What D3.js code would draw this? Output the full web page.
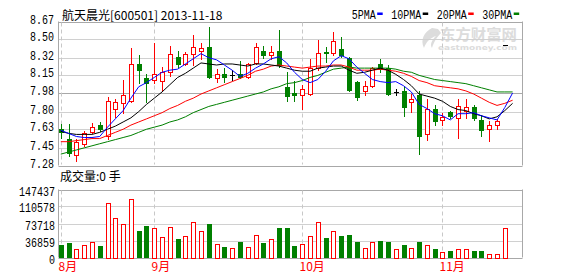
<!DOCTYPE html>
<html>
<head>
<meta charset="utf-8">
<script src="https://cdn.jsdelivr.net/npm/d3@7/dist/d3.min.js"></script>
<style>
  body { margin: 0; background: #fff; }
  svg { display: block; }
</style>
</head>
<body>
<script>
// ---- data ----
const title = "航天晨光[600501] 2013-11-18";
const volumeCaption = "成交量:0 手";

// daily candles (index 0 = first day shown)
const open  = [7.63,7.54,7.38,7.49,7.60,7.67,7.56,7.83,7.88,7.90, 8.26,8.12,8.11,8.10,8.18,8.33,8.26,8.36,8.39,8.42,
               8.12,8.16,8.15,8.16,8.13,8.27,8.39,8.35,8.39,8.04, 7.98,7.96,7.97,8.22,8.38,8.37,8.40,8.32,8.09,8.00,
               8.05,8.26,8.22,7.99,8.00,7.89,7.96,7.58,7.83,7.72, 7.80,7.74,7.81,7.84,7.72,7.63,7.67,8.44];
const high  = [7.68,7.68,7.54,7.61,7.69,7.70,7.94,7.92,8.11,8.41, 8.35,8.16,8.46,8.23,8.43,8.39,8.38,8.54,8.46,8.62,
               8.21,8.22,8.20,8.29,8.27,8.46,8.43,8.43,8.59,8.18, 8.10,8.06,8.31,8.49,8.42,8.57,8.52,8.33,8.10,8.10,
               8.23,8.31,8.25,8.02,8.05,7.97,8.00,7.92,7.86,7.79, 7.81,7.92,7.92,7.86,7.77,7.71,7.73,8.44];
const low   = [7.55,7.37,7.32,7.47,7.59,7.61,7.54,7.75,7.79,7.89, 8.08,7.89,8.08,8.00,8.14,8.23,8.25,8.25,8.31,8.12,
               8.09,8.09,8.11,8.12,8.12,8.26,8.32,8.31,8.23,7.90, 7.90,7.83,7.96,8.20,8.28,8.35,8.33,8.00,7.91,7.96,
               8.04,8.18,7.96,7.96,7.76,7.80,7.39,7.53,7.67,7.67, 7.74,7.55,7.74,7.72,7.56,7.52,7.63,8.44];
const close = [7.60,7.40,7.51,7.59,7.65,7.63,7.90,7.89,7.96,8.26, 8.20,8.08,8.16,8.18,8.36,8.26,8.36,8.42,8.41,8.13,
               8.16,8.13,8.15,8.13,8.26,8.42,8.35,8.38,8.25,7.95, 7.96,8.02,8.22,8.37,8.37,8.48,8.35,8.01,7.94,8.05,
               8.22,8.21,7.97,7.99,7.84,7.92,7.56,7.83,7.71,7.75, 7.76,7.85,7.84,7.74,7.62,7.67,7.71,8.44];
const volume = [26670,31000,17350,26020,33170,24500,119240,86720,72200,127910,
                57020,67860,65040,45530,67210,39670,47700,76530,57020,72200,
                30350,22330,21680,33170,23850,49860,31000,41190,63520,63520,
                24500,30350,47700,76530,41840,57020,46180,48350,33170,21680,
                33170,35990,33170,19510,26670,21680,33170,26670,18000,11490,
                13660,19510,19510,13660,13660,8670,8670,65040];

// moving averages (one extra point for the current day)
const ma5  = [7.62,7.59,7.56,7.55,7.55,7.56,7.65,7.73,7.81,7.93, 8.04,8.08,8.13,8.18,8.20,8.21,8.26,8.31,8.36,8.32,
              8.30,8.25,8.20,8.14,8.17,8.22,8.26,8.31,8.33,8.27, 8.18,8.11,8.08,8.11,8.19,8.29,8.34,8.31,8.23,8.17,
              8.11,8.09,8.08,8.09,8.05,7.99,7.87,7.83,7.78,7.76, 7.72,7.78,7.78,7.79,7.76,7.74,7.72,7.84,7.98];
const ma10 = [7.61,7.59,7.58,7.58,7.58,7.60,7.63,7.66,7.70,7.74, 7.80,7.87,7.93,7.99,8.06,8.13,8.17,8.22,8.27,8.26,
              8.25,8.26,8.26,8.25,8.24,8.26,8.26,8.25,8.24,8.22, 8.20,8.19,8.19,8.22,8.23,8.24,8.24,8.20,8.17,8.18,
              8.20,8.22,8.20,8.16,8.11,8.05,7.97,7.95,7.93,7.90, 7.85,7.82,7.81,7.78,7.76,7.73,7.75,7.81,7.88];
const ma20 = [7.51,7.51,7.52,7.53,7.54,7.54,7.57,7.60,7.63,7.67, 7.70,7.73,7.76,7.79,7.83,7.86,7.90,7.93,7.97,8.00,
              8.03,8.06,8.09,8.12,8.15,8.19,8.21,8.24,8.25,8.24, 8.23,8.22,8.23,8.24,8.24,8.25,8.25,8.23,8.20,8.20,
              8.20,8.21,8.20,8.19,8.17,8.14,8.10,8.08,8.05,8.04, 8.03,8.02,8.00,7.97,7.93,7.89,7.86,7.88,7.91];
const ma30 = [7.39,7.41,7.43,7.45,7.47,7.49,7.51,7.53,7.55,7.57, 7.60,7.63,7.65,7.67,7.70,7.72,7.75,7.79,7.82,7.85,
              7.87,7.89,7.91,7.93,7.95,7.97,7.99,8.02,8.04,8.07, 8.08,8.10,8.13,8.15,8.18,8.21,8.22,8.23,8.22,8.22,
              8.22,8.22,8.22,8.21,8.19,8.18,8.15,8.13,8.11,8.10, 8.09,8.08,8.07,8.05,8.03,8.01,7.99,7.99,7.99];

const priceTicks  = [8.67, 8.50, 8.32, 8.15, 7.98, 7.80, 7.63, 7.45, 7.28];
const volumeTicks = [147437, 110578, 73718, 36859, 0];
const monthLabels = ["8月", "9月", "10月", "11月"];
const monthStart  = [0, 12, 31, 49];   // day index where each month begins
const maNames  = ["5PMA", "10PMA", "20PMA", "30PMA"];
const maColors = ["#0000ff", "#000000", "#ff0000", "#008000"];

// ---- layout ----
const W = 578, H = 276;
const plotL = 58.5, plotR = 522.5;
const priceTop = 21.5, priceBottom = 165.5;
const volTop = 189.5, volBottom = 257.5;
const UP = "#ff0000", DOWN = "#008000";

const svg = d3.select("body").append("svg")
    .attr("width", W)
    .attr("height", H);

const nDays = ma5.length;
const x = d3.scaleLinear().domain([0, nDays - 1]).range([60.8, 512.6]);
const y = d3.scaleLinear().domain([7.28, 8.67]).range([priceBottom, priceTop]);
const yv = d3.scaleLinear().domain([0, 147437]).range([volBottom, volTop]);

const numFont = "'Liberation Mono', 'DejaVu Sans Mono', monospace";
const cjkFont = "'Noto Sans CJK SC', 'Noto Sans', sans-serif";

// title + legend
svg.append("text")
    .attr("x", 62).attr("y", 19.5)
    .attr("font-family", cjkFont).attr("font-size", "12px")
    .attr("fill", "#000")
    .text(title);

let lx = 351.7;
maNames.forEach((name, i) => {
    const w = name.length * 6;
    svg.append("text")
        .attr("x", lx).attr("y", 18.5)
        .attr("font-family", numFont).attr("font-size", "12px")
        .attr("textLength", w).attr("lengthAdjust", "spacingAndGlyphs")
        .text(name);
    svg.append("rect")
        .attr("x", lx + w + 1.5).attr("y", 12.5)
        .attr("width", 5.5).attr("height", 2.5)
        .attr("fill", maColors[i]);
    lx += w + 15.5;
});

// watermark
const wm = svg.append("g").attr("fill", "#dcdcdc");
wm.append("path")
    .attr("d", "M432,28 C424,32 420,40 424,48 C426,42 430,38 436,36 C431,41 430,45 432,48 C434,41 438,36 441,33 L438,29 Z");
wm.append("text")
    .attr("x", 440).attr("y", 40)
    .attr("font-family", cjkFont).attr("font-size", "15px").attr("font-weight", "bold")
    .attr("textLength", 77).attr("lengthAdjust", "spacingAndGlyphs")
    .text("东方财富网");
wm.append("text")
    .attr("x", 438).attr("y", 50)
    .attr("font-family", "'DejaVu Sans', sans-serif").attr("font-size", "7px").attr("font-weight", "bold")
    .attr("textLength", 79).attr("lengthAdjust", "spacingAndGlyphs")
    .text("eastmoney.com");

// ---- price panel grid ----
const grid = svg.append("g");
priceTicks.forEach((v, i) => {
    const yy = Math.round(y(v)) + 0.5;
    const edge = i === 0 || i === priceTicks.length - 1;
    grid.append("line")
        .attr("x1", plotL).attr("x2", plotR)
        .attr("y1", yy).attr("y2", yy)
        .attr("stroke", edge ? "#a8a8a8" : (i === 4 ? "#a8a8a8" : "#d0d0d0"))
        .attr("stroke-width", 1);
    svg.append("text")
        .attr("x", 54).attr("y", yy + 1)
        .attr("text-anchor", "end")
        .attr("font-family", numFont).attr("font-size", "12px")
        .attr("textLength", v.toFixed(2).length * 6).attr("lengthAdjust", "spacingAndGlyphs")
        .attr("fill", "#000")
        .text(v.toFixed(2));
});

volumeTicks.forEach((v, i) => {
    const yy = Math.round(yv(v)) + 0.5;
    const edge = i === 0 || i === volumeTicks.length - 1;
    grid.append("line")
        .attr("x1", plotL).attr("x2", plotR)
        .attr("y1", yy).attr("y2", yy)
        .attr("stroke", edge ? "#a8a8a8" : "#d0d0d0");
    svg.append("text")
        .attr("x", 55).attr("y", yy + 5)
        .attr("text-anchor", "end")
        .attr("font-family", numFont).attr("font-size", "12px")
        .attr("textLength", String(v).length * 6).attr("lengthAdjust", "spacingAndGlyphs")
        .attr("fill", "#000")
        .text(v);
});

// side borders
[plotL, plotR].forEach(xx => {
    grid.append("line").attr("x1", xx).attr("x2", xx).attr("y1", priceTop).attr("y2", priceBottom).attr("stroke", "#a8a8a8");
    grid.append("line").attr("x1", xx).attr("x2", xx).attr("y1", volTop).attr("y2", volBottom).attr("stroke", "#a8a8a8");
});

// month separators + labels
monthStart.forEach((d, i) => {
    const xx = Math.round(x(d)) + 0.5;
    [[priceTop, priceBottom], [volTop, volBottom]].forEach(([a, b]) => {
        grid.append("line")
            .attr("x1", xx).attr("x2", xx)
            .attr("y1", a + 1).attr("y2", b - 1)
            .attr("stroke", "#c8c8c8")
            .attr("stroke-dasharray", "4,3");
    });
    svg.append("text")
        .attr("x", xx - 3).attr("y", 271)
        .attr("font-family", cjkFont).attr("font-size", "12px")
        .attr("fill", "#ff0000")
        .text(monthLabels[i]);
});

svg.append("text")
    .attr("x", 60).attr("y", 181)
    .attr("font-family", cjkFont).attr("font-size", "12px")
    .attr("fill", "#000")
    .text(volumeCaption);

// ---- candles ----
const candles = close.map((c, i) => ({i, o: open[i], h: high[i], l: low[i], c}));
const colorOf = d => d.c > d.o ? UP : (d.c < d.o ? DOWN : "#000");

const cg = svg.append("g").selectAll("g")
    .data(candles)
    .join("g");

cg.append("line")
    .attr("x1", d => Math.round(x(d.i)) + 0.5)
    .attr("x2", d => Math.round(x(d.i)) + 0.5)
    .attr("y1", d => Math.round(y(d.h)))
    .attr("y2", d => Math.round(y(d.l)) + 1)
    .attr("stroke", colorOf);

cg.filter(d => d.c !== d.o).append("rect")
    .attr("x", d => Math.round(x(d.i)) - 2 + (d.c > d.o ? 0.5 : 0))
    .attr("y", d => Math.round(y(Math.max(d.o, d.c))) + (d.c > d.o ? 0.5 : 0))
    .attr("width", d => d.c > d.o ? 4 : 5)
    .attr("height", d => Math.max(1, Math.round(y(Math.min(d.o, d.c))) - Math.round(y(Math.max(d.o, d.c))) + (d.c > d.o ? 0 : 1)))
    .attr("fill", d => d.c > d.o ? "#fff" : DOWN)
    .attr("stroke", d => d.c > d.o ? UP : "none");

cg.filter(d => d.c === d.o).append("line")
    .attr("x1", d => Math.round(x(d.i)) - 2)
    .attr("x2", d => Math.round(x(d.i)) + 3)
    .attr("y1", d => Math.round(y(d.c)) + 0.5)
    .attr("y2", d => Math.round(y(d.c)) + 0.5)
    .attr("stroke", "#000");

// ---- moving averages ----
const line = d3.line()
    .x((d, i) => x(i))
    .y(d => y(d));

[ma30, ma20, ma10, ma5].forEach((s, k) => {
    svg.append("path")
        .datum(s)
        .attr("d", line)
        .attr("fill", "none")
        .attr("stroke", maColors[3 - k])
        .attr("stroke-width", 1);
});

// ---- volume ----
svg.append("g").selectAll("rect")
    .data(volume.map((v, i) => ({i, v, up: close[i] >= open[i]})))
    .join("rect")
    .attr("x", d => Math.round(x(d.i)) - 2 + (d.up ? 0.5 : 0))
    .attr("y", d => Math.round(yv(d.v)) + (d.up ? 0.5 : 0))
    .attr("width", d => d.up ? 4 : 5)
    .attr("height", d => Math.round(volBottom) - Math.round(yv(d.v)))
    .attr("fill", d => d.up ? "#fff" : DOWN)
    .attr("stroke", d => d.up ? UP : "none");
</script>
</body>
</html>
